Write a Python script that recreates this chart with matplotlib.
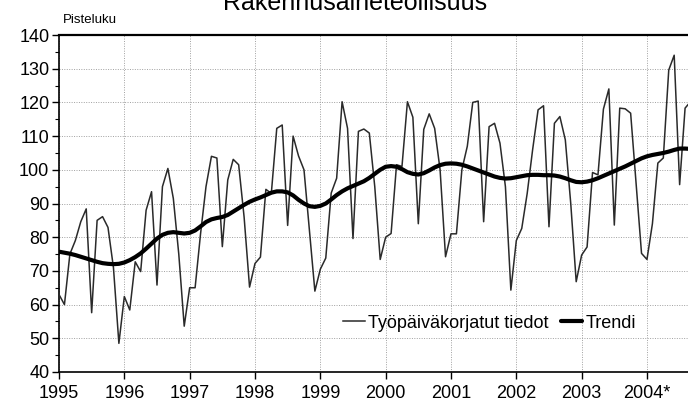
import matplotlib
matplotlib.use("Agg")
import matplotlib.pyplot as plt
import numpy as np
from matplotlib.ticker import MultipleLocator

plt.rcParams['font.family'] = ['Liberation Sans', 'DejaVu Sans']

title = "Rakennusaineteollisuus"
ylabel = "Pisteluku"
legend_raw = "Työpäiväkorjatut tiedot"
legend_trend = "Trendi"
start_year = 1995
year_labels = ["1995", "1996", "1997", "1998", "1999", "2000", "2001", "2002", "2003", "2004*"]

raw = [
    # 1995
    63, 60, 75, 79, 84.6, 88.4, 57.6, 85, 86.1, 82.9, 71, 48.5,
    # 1996
    62.4, 58.4, 72.7, 69.8, 88, 93.5, 65.8, 95, 100.4, 91.5, 75, 53.6,
    # 1997
    65, 65, 81, 95, 104, 103.5, 77.2, 97, 103.1, 101.5, 86, 65.2,
    # 1998
    72.2, 74.1, 94.2, 93, 112.3, 113.3, 83.5, 110, 104.1, 100, 82, 64,
    # 1999
    70.5, 73.8, 93.1, 97.5, 120.2, 112.3, 79.6, 111.4, 112.1, 110.9, 95, 73.4,
    # 2000
    80, 81.1, 101.5, 101, 120.2, 115.6, 84, 112, 116.6, 112.3, 100, 74.2,
    # 2001
    81, 81, 100, 107, 120, 120.4, 84.6, 112.8, 113.8, 107.9, 95, 64.3,
    # 2002
    79, 82.6, 93, 106, 117.8, 119, 83.1, 113.8, 115.8, 108.9, 90, 66.8,
    # 2003
    74.7, 77.1, 99.2, 98.5, 118, 124, 83.6, 118.3, 118.1, 116.8, 96, 75.2,
    # 2004
    73.4, 84, 102, 103.5, 129.6, 134, 95.6, 118.3, 120.2,
]

trend = [
    # 1995
    75.7, 75.4, 75.1, 74.7, 74.2, 73.7, 73.2, 72.7, 72.3, 72.1, 72.0, 72.1,
    # 1996
    72.5, 73.2, 74.1, 75.2, 76.6, 78.1, 79.6, 80.7, 81.3, 81.5, 81.3, 81.1,
    # 1997
    81.3, 82.0, 83.2, 84.5, 85.3, 85.7, 86.0, 86.6, 87.6, 88.6, 89.6, 90.5,
    # 1998
    91.2, 91.8, 92.5, 93.2, 93.6, 93.6, 93.3, 92.4, 91.1, 90.0, 89.2, 89.0,
    # 1999
    89.3, 90.0, 91.2, 92.5, 93.6, 94.5, 95.2, 95.9, 96.6, 97.6, 98.8, 100.0,
    # 2000
    100.9, 101.1, 100.9, 100.2, 99.3, 98.8, 98.6, 99.0, 99.8, 100.7, 101.4, 101.8,
    # 2001
    101.9, 101.8, 101.5, 101.0, 100.4, 99.8, 99.2, 98.6, 98.0, 97.6, 97.4, 97.5,
    # 2002
    97.8, 98.1, 98.4, 98.5, 98.5, 98.4, 98.4, 98.3, 98.0, 97.5, 96.9, 96.4,
    # 2003
    96.3, 96.5, 96.9, 97.5, 98.2, 98.9, 99.6, 100.3, 101.0, 101.8, 102.6, 103.4,
    # 2004
    104.0, 104.4, 104.7, 105.0, 105.4, 105.9, 106.3, 106.3, 106.2,
]

x = start_year + np.arange(len(raw)) / 12.0
xt = start_year + np.arange(len(trend)) / 12.0

fig = plt.figure(figsize=(6.88, 4.09), dpi=100)
ax = fig.add_axes([59 / 688, 37 / 409, 629 / 688, 337 / 409])

ax.plot(x, raw, color="#2a2a2a", lw=1.1, label=legend_raw, zorder=3)
ax.plot(xt, trend, color="black", lw=3.0, label=legend_trend, zorder=4, solid_capstyle="round")

ax.set_ylim(40, 140)
ax.set_xlim(start_year, start_year + 629 / 65.33)

years = np.arange(start_year, start_year + len(year_labels))
ax.set_xticks(years)
ax.set_xticklabels(year_labels)
ax.yaxis.set_major_locator(MultipleLocator(10))
ax.yaxis.set_minor_locator(MultipleLocator(5))

ax.grid(True, which="major", color="#a0a0a0", linestyle=(0, (1, 1.5)), linewidth=0.7, zorder=0)

ax.spines["right"].set_visible(False)
ax.spines["left"].set_linewidth(1.2)
ax.spines["bottom"].set_linewidth(1.2)
ax.spines["top"].set_linewidth(1.6)

ax.tick_params(axis="both", which="major", direction="out", length=5, width=1.0,
               labelsize=13, pad=2, colors="black")
ax.tick_params(axis="y", which="minor", direction="out", length=3, width=0.8)
ax.tick_params(axis="x", which="major", pad=4)

leg = ax.legend(loc="center left", bbox_to_anchor=(0.452, 0.145), ncol=2, frameon=False,
                fontsize=13, handlelength=1.2, handletextpad=0.15, columnspacing=0.7,
                borderaxespad=0, borderpad=0)

fig.text(63 / 688, 1 - 20 / 409, ylabel, fontsize=9.5, va="center", ha="left")
fig.text(355 / 688, 1 - 10 / 409, title, fontsize=18, va="baseline", ha="center")

fig.savefig("out.png", dpi=100)
